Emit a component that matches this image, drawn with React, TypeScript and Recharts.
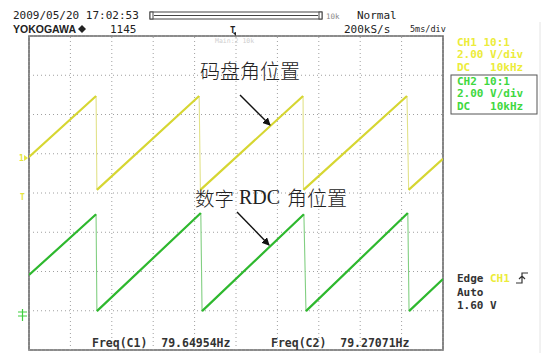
import React from 'react';
import { LineChart, Line, XAxis, YAxis, ReferenceLine, ReferenceArea } from 'recharts';

// Grid divisions (10 horizontal x 8 vertical)
const xDivs = [0, 1, 2, 3, 4, 5, 6, 7, 8, 9, 10];
const yDivs = [0, 1, 2, 3, 4, 5, 6, 7, 8];

// CH1 (码盘角位置) sawtooth vertices: time in divisions, level in divisions
const ch1Time = [0, 1.62, 1.64, 4.11, 4.14, 6.62, 6.63, 9.13, 9.17, 10];
const ch1Level = [4.92, 6.47, 4.08, 6.47, 4.08, 6.47, 4.08, 6.47, 4.08, 4.87];

// CH2 (数字 RDC 角位置) sawtooth vertices
const ch2Time = [0, 1.62, 1.64, 4.15, 4.18, 6.64, 6.69, 9.15, 9.18, 10];
const ch2Level = [1.91, 3.46, 0.99, 3.49, 0.99, 3.46, 0.99, 3.49, 0.99, 1.81];

// Text labels
const headerDate = '2009/05/20 17:02:53';
const brand = 'YOKOGAWA';
const recordNo = '1145';
const trigMode = 'Normal';
const sampleRate = '200kS/s';
const timeDiv = '5ms/div';
const ch1Info = ['CH1 10:1', '2.00 V/div', 'DC   10kHz'];
const ch2Info = ['CH2 10:1', '2.00 V/div', 'DC   10kHz'];
const trigInfo = ['Auto', '1.60 V'];
const freq1 = 'Freq(C1)  79.64954Hz';
const freq2 = 'Freq(C2)  79.27071Hz';
const label1 = '码盘角位置';
const label2 = ['数字', 'RDC', '角位置'];

type Pt = { x: number; y: number | null };

function ramps(t: number[], v: number[]): Pt[] {
  const out: Pt[] = [];
  for (let i = 0; i + 1 < t.length; i += 2) {
    out.push({ x: t[i], y: v[i] });
    out.push({ x: t[i + 1], y: v[i + 1] });
    out.push({ x: t[i + 1], y: null });
  }
  return out;
}

function drops(t: number[], v: number[]): Pt[] {
  const out: Pt[] = [];
  for (let i = 1; i + 1 < t.length; i += 2) {
    out.push({ x: t[i], y: v[i] });
    out.push({ x: t[i + 1], y: v[i + 1] });
    out.push({ x: t[i + 1], y: null });
  }
  return out;
}

const ch1Ramps = ramps(ch1Time, ch1Level);
const ch1Drops = drops(ch1Time, ch1Level);
const ch2Ramps = ramps(ch2Time, ch2Level);
const ch2Drops = drops(ch2Time, ch2Level);

const MONO = '"DejaVu Sans Mono", "Liberation Mono", monospace';
const YELLOW_TXT = '#ecec3a';
const GREEN_TXT = '#3fd83f';

export default function App() {
  return (
    <div style={{ position: 'fixed', left: 0, top: 0, width: 546, height: 353, background: '#fff' }}>
      <LineChart width={546} height={353} margin={{ top: 36, right: 103, bottom: 3, left: 29 }}>
        <XAxis type="number" dataKey="x" domain={[0, 10]} hide allowDataOverflow />
        <YAxis type="number" domain={[0, 8]} hide allowDataOverflow />
        {xDivs.map((d) => (
          <ReferenceLine key={'gx' + d} x={d} stroke="#a0a0a0" strokeDasharray="1 3" />
        ))}
        {yDivs.map((d) => (
          <ReferenceLine key={'gy' + d} y={d} stroke="#a0a0a0" strokeDasharray="1 3" />
        ))}
        <ReferenceArea x1={0} x2={10} y1={0} y2={8} fill="none" stroke="#666" strokeWidth={1.6} />
        <Line data={ch1Drops} dataKey="y" stroke="#e2e28a" strokeWidth={1.1} dot={false} isAnimationActive={false} connectNulls={false} />
        <Line data={ch2Drops} dataKey="y" stroke="#82cf82" strokeWidth={1.1} dot={false} isAnimationActive={false} connectNulls={false} />
        <Line data={ch1Ramps} dataKey="y" stroke="#d6d632" strokeWidth={2.2} dot={false} isAnimationActive={false} connectNulls={false} />
        <Line data={ch2Ramps} dataKey="y" stroke="#2eb82e" strokeWidth={2.2} dot={false} isAnimationActive={false} connectNulls={false} />
      </LineChart>
      <svg width={546} height={353} style={{ position: 'absolute', left: 0, top: 0, pointerEvents: 'none' }}>
        <defs>
          <marker id="ah" markerWidth="8" markerHeight="8" refX="7" refY="4" orient="auto" markerUnits="userSpaceOnUse">
            <path d="M0,0 L8,4 L0,8 Z" fill="#111" />
          </marker>
        </defs>
        <line x1={540} y1={22} x2={540} y2={353} stroke="#e4e4e4" strokeWidth={1} />
        {/* header */}
        <text x={13} y={15} dominantBaseline="central" fontFamily={MONO} fontSize={11} fill="#222">{headerDate}</text>
        <text x={13} y={29} dominantBaseline="central" fontFamily='"Liberation Sans", Arial, sans-serif' fontWeight="bold" fontSize={10.5} fill="#222">{brand}</text>
        <path d="M82,25 L86,29 L82,33 L78,29 Z" fill="#222" />
        <text x={110} y={29} dominantBaseline="central" fontFamily={MONO} fontSize={11} fill="#222">{recordNo}</text>
        {/* memory bar */}
        <rect x={150} y={12} width={172} height={7} fill="#fff" stroke="#444" strokeWidth={1} />
        <line x1={154} y1={15.5} x2={318} y2={15.5} stroke="#444" strokeWidth={1} />
        <rect x={150} y={12} width={3} height={7} fill="#fff" stroke="#444" strokeWidth={1} />
        <rect x={319} y={12} width={3} height={7} fill="#fff" stroke="#444" strokeWidth={1} />
        <text x={326} y={16} dominantBaseline="central" fontFamily={MONO} fontSize={7.5} fill="#888">10k</text>
        <text x={357} y={15} dominantBaseline="central" fontFamily={MONO} fontSize={11} fill="#222">{trigMode}</text>
        <text x={344} y={29} dominantBaseline="central" fontFamily={MONO} fontSize={11} fill="#222">{sampleRate}</text>
        <text x={410} y={29} dominantBaseline="central" fontFamily={MONO} fontSize={8.5} fill="#222">{timeDiv}</text>
        {/* trigger position marker */}
        <text x={230} y={30} dominantBaseline="central" fontFamily={MONO} fontSize={9} fontWeight="bold" fill="#222">T</text>
        <path d="M233,33 L236,36 L236,32 Z" fill="#222" />
        <text x={215} y={41} dominantBaseline="central" fontFamily={MONO} fontSize={6.5} fill="#cfcfcf">Main:2 10k</text>
        {/* channel panels */}
        {ch1Info.map((s, i) => (
          <text key={'c1' + i} x={457} y={42 + i * 12.5} dominantBaseline="central" fontFamily={MONO} fontSize={11} fontWeight="bold" fill={YELLOW_TXT} xmlSpace="preserve">{s}</text>
        ))}
        <rect x={451} y={75} width={86} height={39} fill="none" stroke="#555" strokeWidth={1} />
        {ch2Info.map((s, i) => (
          <text key={'c2' + i} x={457} y={81 + i * 12.8} dominantBaseline="central" fontFamily={MONO} fontSize={11} fontWeight="bold" fill={GREEN_TXT} xmlSpace="preserve">{s}</text>
        ))}
        {/* trigger panel */}
        <text x={457} y={278} dominantBaseline="central" fontFamily={MONO} fontSize={11} fontWeight="bold" fill="#333">Edge</text>
        <text x={490} y={278} dominantBaseline="central" fontFamily={MONO} fontSize={11} fontWeight="bold" fill={YELLOW_TXT}>CH1</text>
        <path d="M516,283 L522,283 L522,273 L528,273 M519,279 L522,276 L525,279" fill="none" stroke="#333" strokeWidth={1.2} />
        {trigInfo.map((s, i) => (
          <text key={'tr' + i} x={457} y={292 + i * 13} dominantBaseline="central" fontFamily={MONO} fontSize={11} fontWeight="bold" fill="#333">{s}</text>
        ))}
        {/* frequency readouts */}
        <text x={92} y={343} dominantBaseline="central" fontFamily={MONO} fontSize={11.5} fontWeight="bold" fill="#333" xmlSpace="preserve">{freq1}</text>
        <text x={271} y={343} dominantBaseline="central" fontFamily={MONO} fontSize={11.5} fontWeight="bold" fill="#333" xmlSpace="preserve">{freq2}</text>
        {/* channel markers */}
        <text x={19} y={158} dominantBaseline="central" fontFamily={MONO} fontSize={8} fontWeight="bold" fill="#e6e640">1</text>
        <path d="M24,155 L28,158 L24,161 Z" fill="#e6e640" />
        <text x={20} y={197} dominantBaseline="central" fontFamily={MONO} fontSize={8} fontWeight="bold" fill="#e6e640">T</text>
        <path d="M18,312 L27,312 M18,316 L27,316 M22.5,309 L22.5,321" stroke="#3fcf3f" strokeWidth={1.2} fill="none" />
        {/* annotations */}
        <text x={200} y={70} dominantBaseline="central" fontFamily='"Noto Sans CJK SC", sans-serif' fontWeight={300} fontSize={20} fill="#222">{label1}</text>
        <line x1={240} y1={95} x2={270} y2={125} stroke="#111" strokeWidth={1.4} markerEnd="url(#ah)" />
        <text x={195} y={197} dominantBaseline="central" fontFamily='"Noto Sans CJK SC", sans-serif' fontWeight={300} fontSize={19.5} fill="#222">{label2[0]}</text>
        <text x={239} y={197} dominantBaseline="central" fontFamily='"Liberation Serif", serif' fontSize={20} fill="#222">{label2[1]}</text>
        <text x={287} y={197} dominantBaseline="central" fontFamily='"Noto Sans CJK SC", sans-serif' fontWeight={300} fontSize={20} fill="#222">{label2[2]}</text>
        <line x1={237} y1={212} x2={269} y2={245} stroke="#111" strokeWidth={1.4} markerEnd="url(#ah)" />
      </svg>
    </div>
  );
}
